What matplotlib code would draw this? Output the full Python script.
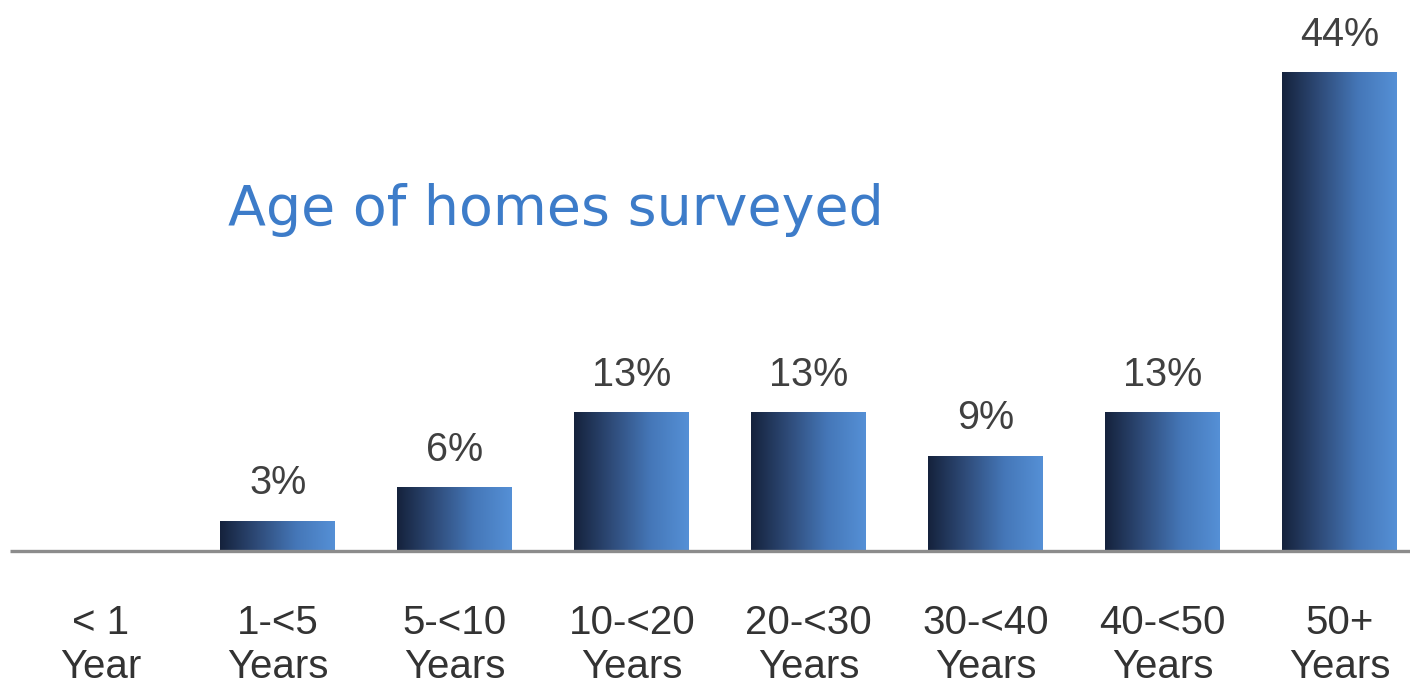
import numpy as np
import matplotlib.pyplot as plt
from matplotlib.colors import LinearSegmentedColormap

# data
categories = ["< 1\nYear", "1-<5\nYears", "5-<10\nYears", "10-<20\nYears",
              "20-<30\nYears", "30-<40\nYears", "40-<50\nYears", "50+\nYears"]
shares = [0.0, 2.7, 5.8, 12.7, 12.7, 8.7, 12.7, 44.0]
title = "Age of homes surveyed"

plt.rcParams['font.family'] = ['Liberation Sans', 'DejaVu Sans']

fig = plt.figure(figsize=(14.1, 6.93), dpi=100)
ax = fig.add_axes([0, 0, 1, 1])
ax.set_xlim(-0.571, 7.399)
ax.set_ylim(-13.07, 50.7)
ax.axis('off')

grad = LinearSegmentedColormap.from_list(
    'bar', ['#15223c', '#2f4c7a', '#4577b8', '#5590d6'])
ramp = np.linspace(0, 1, 256).reshape(1, -1)
width = 0.65

for i, v in enumerate(shares):
    if v <= 0:
        continue
    ax.imshow(ramp, cmap=grad, aspect='auto', interpolation='bilinear',
              extent=(i - width / 2, i + width / 2, 0, v), zorder=2)
    ax.text(i, v + 2.5, f"{v:.0f}%", ha='center', va='baseline',
            fontsize=28.5, color='#404040')

# baseline
ax.plot([-0.515, 7.399], [0, 0], color='#8c8c8c', lw=2.4, zorder=3,
        solid_capstyle='butt')

for i, lab in enumerate(categories):
    ax.text(i, -4.9, lab, ha='center', va='top', fontsize=29,
            color='#333333', linespacing=1.18)

ax.text(0.718, 30.0, title, ha='left', va='baseline', fontsize=40,
        color='#3d7cc9', family=['DejaVu Sans'])

fig.savefig('out.png', dpi=100)
